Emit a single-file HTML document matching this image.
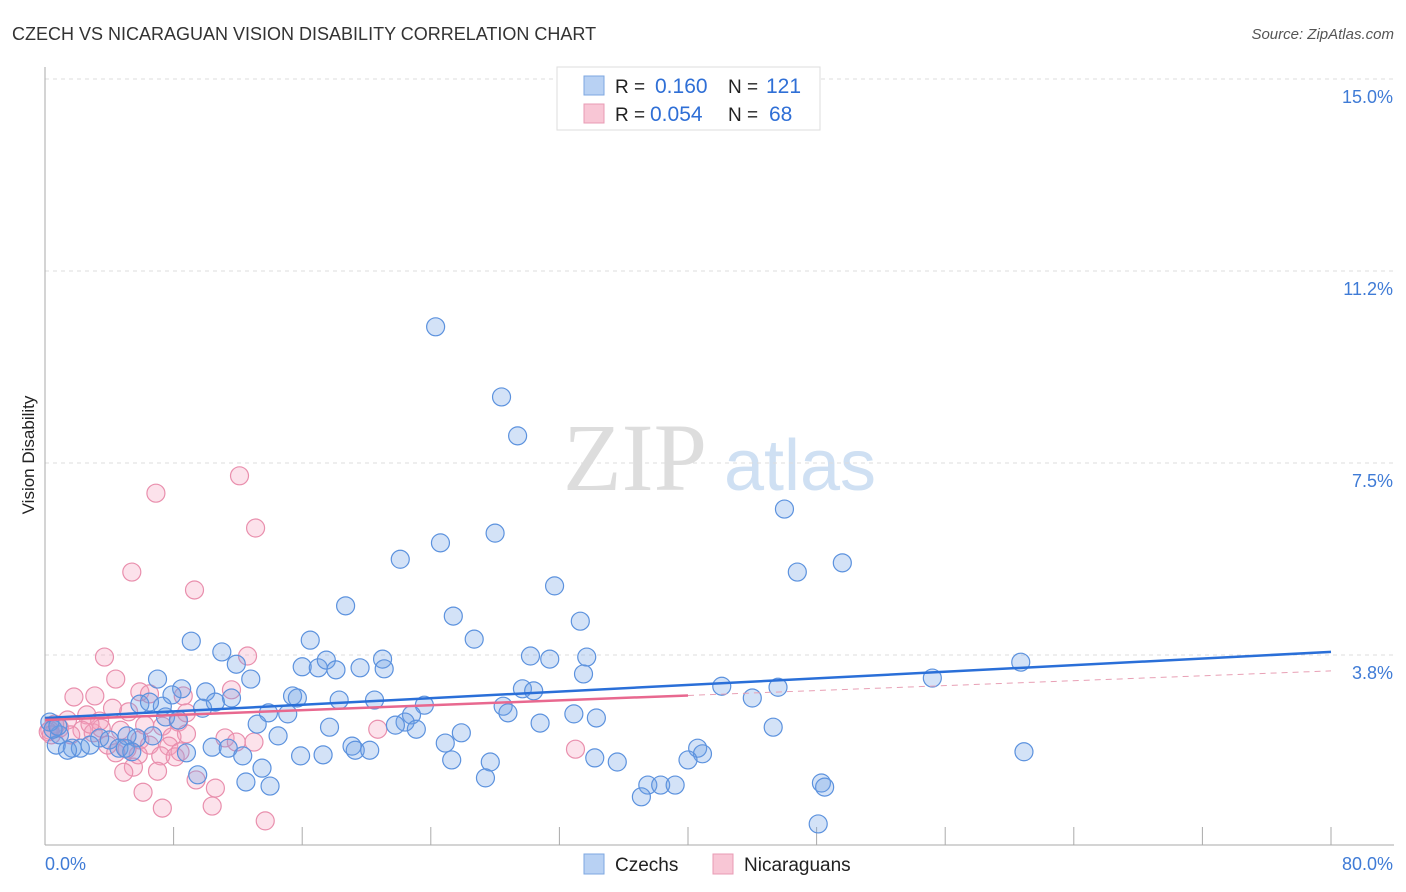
<!DOCTYPE html>
<html><head><meta charset="utf-8"><style>
body{margin:0;background:#fff;font-family:"Liberation Sans",sans-serif;}
svg{display:block}
</style></head><body>
<svg id="chart" width="1406" height="892">
<text x="12" y="40" font-size="18" fill="#333">CZECH VS NICARAGUAN VISION DISABILITY CORRELATION CHART</text>
<text x="1394" y="39" font-size="15" fill="#555" font-style="italic" text-anchor="end">Source: ZipAtlas.com</text>
<text x="0" y="0" transform="translate(34,455) rotate(-90)" font-size="17" fill="#222" text-anchor="middle">Vision Disability</text>
<text x="635" y="490" font-size="96" fill="#ddd" font-family="Liberation Serif,serif" text-anchor="middle">ZIP</text>
<text x="800" y="490" font-size="72" fill="#cfe0f3" text-anchor="middle">atlas</text>
<g id="grid"></g><g id="axes"></g>
<g id="pinkPts"></g><g id="bluePts"></g><g id="trends"></g>
<g>
<rect x="557" y="67" width="263" height="63" fill="#fff" stroke="#ddd"/>
<rect x="584" y="76" width="20" height="19" fill="#b8d1f3" stroke="#7ea7e0"/>
<rect x="584" y="104" width="20" height="19" fill="#f8c6d5" stroke="#e89bb4"/>
<text x="615" y="93" font-size="19" fill="#222">R = </text><text x="655" y="93" font-size="21" fill="#2f6fd6">0.160</text>
<text x="728" y="93" font-size="19" fill="#222">N = </text><text x="766" y="93" font-size="21" fill="#2f6fd6">121</text>
<text x="615" y="121" font-size="19" fill="#222">R = </text><text x="650" y="121" font-size="21" fill="#2f6fd6">0.054</text>
<text x="728" y="121" font-size="19" fill="#222">N = </text><text x="769" y="121" font-size="21" fill="#2f6fd6">68</text>
</g>
<g>
<rect x="584" y="854" width="20" height="20" fill="#b8d1f3" stroke="#7ea7e0"/>
<text x="615" y="871" font-size="19" fill="#222">Czechs</text>
<rect x="713" y="854" width="20" height="20" fill="#f8c6d5" stroke="#e89bb4"/>
<text x="744" y="871" font-size="19" fill="#222">Nicaraguans</text>
</g>
</svg>
<script>
const yTicks=[15,11.25,7.5,3.75];
const yTickLabels=["15.0%","11.2%","7.5%","3.8%"];
const xTicks=[0,8,16,24,32,40,48,56,64,72,80];
const xEndLabels=["0.0%","80.0%"];
const blueX=[24.3,28.4,29.4,46.0,22.1,24.6,28.0,49.6,46.8,31.7,18.7,25.4,33.3,26.7,9.1,16.5,11.0,7.0,11.9,16.0,17.0,17.5,19.6,18.1,21.0,21.1,30.2,31.4,33.7,33.5,60.7,55.2,12.8,8.5,10.0,7.9,11.6,15.4,15.7,18.3,20.5,29.7,30.4,42.1,45.6,44.0,5.9,7.3,6.5,10.6,9.8,23.6,28.5,28.8,13.9,15.1,7.5,8.3,22.8,22.4,32.9,34.3,30.8,21.8,23.1,17.7,13.2,45.3,14.5,6.7,25.9,24.9,5.7,5.1,3.4,4.0,0.7,1.7,2.2,2.8,4.6,5.0,1.4,10.4,11.4,19.1,19.3,20.2,40.6,60.9,40.9,8.8,5.4,15.9,17.3,12.3,25.3,27.7,34.2,35.6,40.0,13.5,9.5,27.4,12.5,14.0,37.5,38.3,39.2,48.3,48.5,37.1,48.1,0.9,0.3,0.5,0.8];
const blueY=[10.16,8.79,8.03,6.60,5.62,5.94,6.13,5.55,5.37,5.10,4.71,4.51,4.41,4.06,4.02,4.04,3.81,3.28,3.57,3.52,3.50,3.65,3.50,3.46,3.67,3.48,3.73,3.67,3.71,3.38,3.61,3.30,3.28,3.09,3.03,2.97,2.91,2.95,2.91,2.87,2.87,3.09,3.05,3.14,3.12,2.91,2.79,2.75,2.83,2.83,2.71,2.77,2.75,2.62,2.62,2.60,2.54,2.48,2.58,2.44,2.60,2.52,2.42,2.38,2.30,2.34,2.40,2.34,2.17,2.17,2.23,2.03,2.13,2.17,2.13,2.09,1.99,1.93,1.93,1.99,1.93,1.93,1.89,1.95,1.93,1.97,1.89,1.89,1.93,1.86,1.82,1.84,1.86,1.78,1.80,1.78,1.70,1.66,1.74,1.66,1.70,1.54,1.41,1.35,1.27,1.19,1.21,1.21,1.21,1.25,1.17,0.98,0.45,2.19,2.44,2.30,2.36];
const pinkX=[12.1,6.9,13.1,5.4,9.3,3.7,12.6,4.4,5.9,1.8,3.1,6.5,8.6,11.6,4.2,5.2,2.6,1.4,3.4,7.3,8.3,0.6,0.9,0.3,0.2,0.4,2.3,3.0,3.5,4.7,8.8,5.9,6.5,7.9,20.7,11.2,11.9,13.0,7.7,4.4,5.8,7.2,8.1,8.4,33.0,5.5,4.9,7.0,9.4,10.6,6.1,7.3,10.4,13.7,1.6,3.9,5.1,2.8,6.2,8.8];
const pinkY=[7.25,6.91,6.23,5.37,5.02,3.71,3.73,3.28,3.03,2.93,2.95,2.99,2.95,3.07,2.71,2.64,2.58,2.48,2.46,2.36,2.44,2.40,2.32,2.28,2.25,2.19,2.28,2.23,2.32,2.28,2.21,2.09,1.99,2.15,2.30,2.13,2.05,2.05,1.97,1.84,1.80,1.78,1.76,1.86,1.91,1.56,1.46,1.48,1.31,1.15,1.07,0.76,0.80,0.51,2.19,1.99,1.91,2.40,2.38,2.62];
const blueTrend=[2.52,3.81];
const pinkTrend=[2.48,3.44];
const pinkSolidEnd=40;

const NS="http://www.w3.org/2000/svg";
const X0=45,X1=1331,Y0=847,PX_PER=192/3.75;
const sx=v=>X0+(v/80)*(X1-X0);
const sy=v=>Y0-v*PX_PER;
function mk(tag,attrs,parent){const e=document.createElementNS(NS,tag);for(const k in attrs)e.setAttribute(k,attrs[k]);parent.appendChild(e);return e;}
const grid=document.getElementById('grid'),axes=document.getElementById('axes');
yTicks.forEach((t,i)=>{
 const l=mk('line',{x1:45,x2:1394,y1:sy(t),y2:sy(t),stroke:'#ddd','stroke-dasharray':'4,4'},grid);
 
 
 const tx=mk('text',{x:1393,y:sy(t)+24,'font-size':18,fill:'#3f7bd6','text-anchor':'end'},grid);
 tx.textContent=yTickLabels[i];
 
 
});
const ya=mk('line',{x1:45,x2:45,y1:67,y2:845,stroke:'#aaa'},axes);


const xa=mk('line',{x1:45,x2:1394,y1:845,y2:845,stroke:'#aaa'},axes);


xTicks.forEach(t=>{
 const l=mk('line',{x1:sx(t),x2:sx(t),y1:827,y2:845,stroke:'#aaa'},axes);
 
 
});
const xl0=mk('text',{x:45,y:870,'font-size':18,fill:'#3f7bd6'},axes);xl0.textContent=xEndLabels[0];


const xl1=mk('text',{x:1393,y:870,'font-size':18,fill:'#3f7bd6','text-anchor':'end'},axes);xl1.textContent=xEndLabels[1];


const bp=document.getElementById('bluePts'),pp=document.getElementById('pinkPts');
pinkX.forEach((x,i)=>{
 const c=mk('circle',{cx:sx(x),cy:sy(pinkY[i]),r:9,fill:'rgba(244,160,190,0.3)',stroke:'#e98fad','stroke-width':1.2},pp);
 
 
});
blueX.forEach((x,i)=>{
 const c=mk('circle',{cx:sx(x),cy:sy(blueY[i]),r:9,fill:'rgba(110,160,230,0.3)',stroke:'#5c92de','stroke-width':1.2},bp);
 
 
});
const tr=document.getElementById('trends');
const bt=mk('line',{x1:sx(0),y1:sy(blueTrend[0]),x2:sx(80),y2:sy(blueTrend[1]),stroke:'#2a6fd8','stroke-width':2.5},tr);


const pm=pinkTrend[0]+(pinkTrend[1]-pinkTrend[0])*pinkSolidEnd/80;
const ps=mk('line',{x1:sx(0),y1:sy(pinkTrend[0]),x2:sx(pinkSolidEnd),y2:sy(pm),stroke:'#e8688f','stroke-width':2.5},tr);


const pd=mk('line',{x1:sx(pinkSolidEnd),y1:sy(pm),x2:sx(80),y2:sy(pinkTrend[1]),stroke:'#e8a0b5','stroke-width':1,'stroke-dasharray':'6,5'},tr);


</script>
</body></html>
